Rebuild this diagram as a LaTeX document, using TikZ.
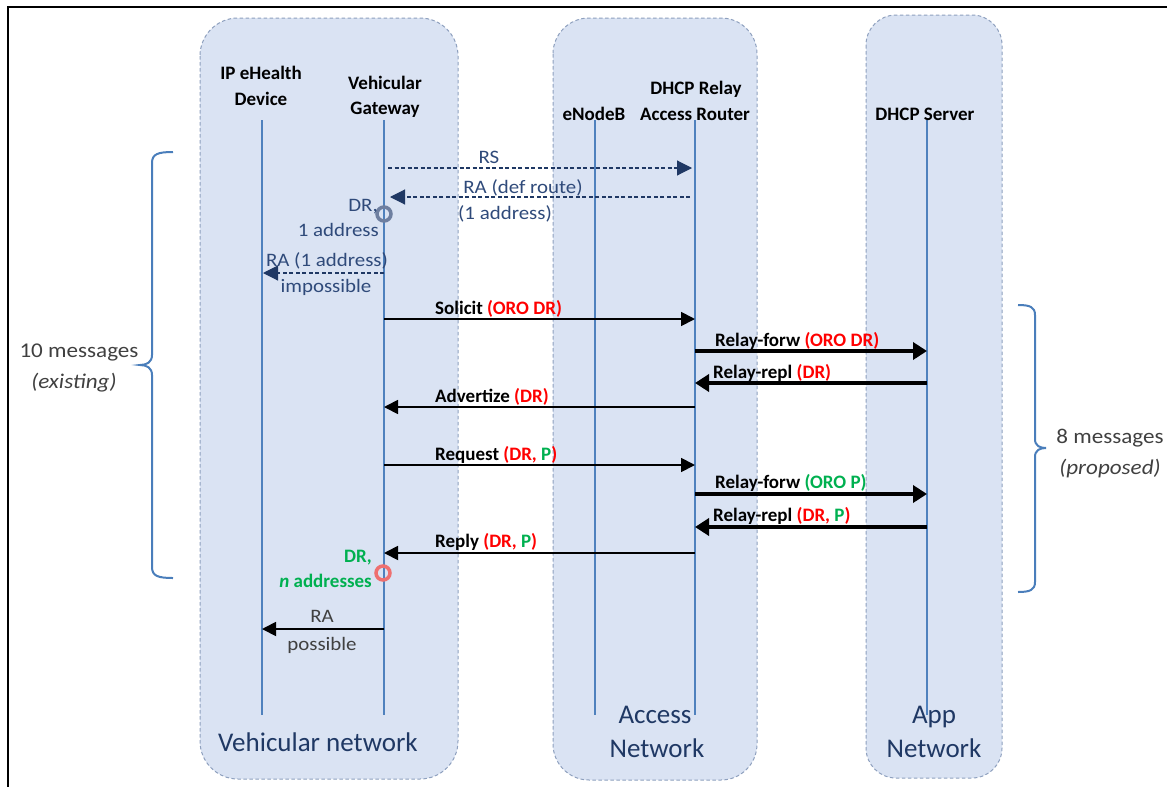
\documentclass[tikz,border=0pt]{standalone}
\usepackage{fontspec}
\setmainfont{Carlito}
\newfontfamily\widefont{Carlito}[FakeStretch=1.1]
\usetikzlibrary{arrows.meta}
\definecolor{boxfill}{HTML}{DAE3F3}
\definecolor{boxedge}{HTML}{8EA0BE}
\definecolor{life}{HTML}{4F81BD}
\definecolor{navy}{HTML}{1F3864}
\definecolor{slate}{HTML}{2F4A7A}
\definecolor{dred}{HTML}{FF0000}
\definecolor{dgreen}{HTML}{00B050}
\definecolor{txtgray}{HTML}{404040}
\definecolor{bracecol}{HTML}{4A7EBB}
\definecolor{ringgray}{HTML}{6E7FA0}
\definecolor{ringred}{HTML}{EE7070}
\begin{document}
\begin{tikzpicture}[x=1pt,y=-1pt,
  netbox/.style={fill=boxfill,draw=boxedge,line width=1pt,dash pattern=on 3.5pt off 2.5pt,rounded corners=#1},
  lifeline/.style={draw=life,line width=1.8pt},
  hdr/.style={font=\fontsize{19}{22}\selectfont\bfseries,anchor=base,inner sep=0pt},
  lbl/.style={font=\fontsize{19}{22}\selectfont\bfseries,anchor=base west,inner sep=0pt},
  dlbl/.style={font=\widefont\fontsize{19}{22}\selectfont,text=slate,inner sep=0pt},
  glbl/.style={font=\widefont\fontsize{19}{22}\selectfont,text=txtgray,inner sep=0pt},
  blbl/.style={font=\widefont\fontsize{21}{24}\selectfont,text=txtgray,anchor=base,inner sep=0pt},
  netlbl/.style={font=\fontsize{27}{30}\selectfont,text=navy,anchor=base,inner sep=0pt},
  dmsg/.style={draw=navy,line width=1.1pt,dash pattern=on 4pt off 2.5pt,-{Triangle[length=15pt,width=15pt,fill=navy]}},
  msg/.style={draw=black,line width=1.8pt,-{Triangle[length=14pt,width=14pt]}},
  tmsg/.style={draw=black,line width=4.5pt,-{Triangle[length=14pt,width=17pt]}},
  bracepath/.style={draw=bracecol,line width=2pt},
  ring/.style={circle,draw=#1,line width=3.5pt,minimum size=14pt,inner sep=0pt}
]
\useasboundingbox (0,0) rectangle (1167,787);
% frame
\coordinate (fTL) at (8,6.5);
\coordinate (fTR) at (1167,6.5);
\coordinate (fBL) at (8,787);
\draw[line width=2pt] (fTR) -- (fTL) -- (fBL);

% network boxes
\draw[netbox=38pt] (200,18) rectangle (458,779);
\draw[netbox=36pt] (553,18) rectangle (757,780);
\draw[netbox=30pt] (866,15) rectangle (1002,778);

% lifelines
\coordinate (ipT) at (262,120); \coordinate (ipB) at (262,715);
\coordinate (gwT) at (384,120); \coordinate (gwB) at (384,715);
\coordinate (enT) at (595,120); \coordinate (enB) at (595,715);
\coordinate (arT) at (695,120); \coordinate (arB) at (695,715);
\coordinate (svT) at (927,120); \coordinate (svB) at (927,715);
\draw[lifeline] (ipT) -- (ipB);
\draw[lifeline] (gwT) -- (gwB);
\draw[lifeline] (enT) -- (enB);
\draw[lifeline] (arT) -- (arB);
\draw[lifeline] (svT) -- (svB);

% headers
\node[hdr] (h1a) at (261,79) {IP eHealth};
\node[hdr] (h1b) at (261,105) {Device};
\node[hdr] (h2a) at (385,89) {Vehicular};
\node[hdr] (h2b) at (385,114) {Gateway};
\node[hdr] (h3) at (594,120) {eNodeB};
\node[hdr] (h4a) at (696,94) {DHCP Relay};
\node[hdr] (h4b) at (695,120) {Access Router};
\node[hdr] (h5) at (925,120) {DHCP Server};

% dashed messages
\coordinate (m1s) at (388,168); \coordinate (m1e) at (692,168);
\draw[dmsg] (m1s) -- (m1e);
\node[dlbl,anchor=base] (l1) at (489,163) {RS};
\coordinate (m2s) at (690,197); \coordinate (m2e) at (390,197);
\draw[dmsg] (m2s) -- (m2e);
\node[dlbl,anchor=base] (l2a) at (523,193) {RA (def route)};
\node[dlbl,anchor=base] (l2b) at (505,219) {(1 address)};
\node[ring=ringgray] (r1) at (384,214) {};
\node[dlbl,anchor=base east] (d1a) at (378,211) {DR,};
\node[dlbl,anchor=base east] (d1b) at (379,236) {1 address};
\coordinate (m3s) at (384,273); \coordinate (m3e) at (263,273);
\draw[dmsg] (m3s) -- (m3e);
\node[dlbl,anchor=base] (l3a) at (327,266) {RA (1 address)};
\node[dlbl,anchor=base] (l3b) at (326,292) {impossible};

% solid messages
\coordinate (m4s) at (384,319); \coordinate (m4e) at (695,319);
\draw[msg] (m4s) -- (m4e);
\node[lbl] (l4) at (435,314) {Solicit {\color{dred}(ORO DR)}};
\coordinate (m5s) at (695,351); \coordinate (m5e) at (927,351);
\draw[tmsg] (m5s) -- (m5e);
\node[lbl] (l5) at (715,346) {Relay-forw {\color{dred}(ORO DR)}};
\coordinate (m6s) at (927,383); \coordinate (m6e) at (695,383);
\draw[tmsg] (m6s) -- (m6e);
\node[lbl] (l6) at (713,378) {Relay-repl {\color{dred}(DR)}};
\coordinate (m7s) at (695,407); \coordinate (m7e) at (384,407);
\draw[msg] (m7s) -- (m7e);
\node[lbl] (l7) at (435,402) {Advertize {\color{dred}(DR)}};
\coordinate (m8s) at (384,465); \coordinate (m8e) at (695,465);
\draw[msg] (m8s) -- (m8e);
\node[lbl] (l8) at (435,460) {Request {\color{dred}(DR, \textcolor{dgreen}{P})}};
\coordinate (m9s) at (695,494); \coordinate (m9e) at (927,494);
\draw[tmsg] (m9s) -- (m9e);
\node[lbl] (l9) at (715,488) {Relay-forw {\color{dgreen}(ORO P)}};
\coordinate (m10s) at (927,527); \coordinate (m10e) at (695,527);
\draw[tmsg] (m10s) -- (m10e);
\node[lbl] (l10) at (713,521) {Relay-repl {\color{dred}(DR, \textcolor{dgreen}{P})}};
\coordinate (m11s) at (695,553); \coordinate (m11e) at (384,553);
\draw[msg] (m11s) -- (m11e);
\node[lbl] (l11) at (435,547) {Reply {\color{dred}(DR, \textcolor{dgreen}{P})}};
\node[ring=ringred] (r2) at (383,573) {};
\node[lbl,anchor=base east,text=dgreen] (d2a) at (372,562) {DR,};
\node[lbl,anchor=base east,text=dgreen] (d2b) at (372,587) {\textit{n} addresses};
\coordinate (m12s) at (384,629); \coordinate (m12e) at (262,629);
\draw[msg] (m12s) -- (m12e);
\node[glbl,anchor=base] (l12a) at (322,622) {RA};
\node[glbl,anchor=base] (l12b) at (322,650) {possible};

% braces
\coordinate (b1t) at (173,152);
\coordinate (b1b) at (173,578);
\draw[bracepath] (b1t) .. controls (158,152) and (152,154) .. (152,163) -- (152,355)
  .. controls (152,362) and (147,365) .. (140,365)
  .. controls (147,365) and (152,368) .. (152,375) -- (152,567)
  .. controls (152,576) and (158,578) .. (b1b);
\node[blbl] (bt1a) at (79,357) {10 messages};
\node[blbl] (bt1b) at (74,388) {\textit{(existing)}};
\coordinate (b2t) at (1018,305);
\coordinate (b2b) at (1018,592);
\draw[bracepath] (b2t) .. controls (1030,305) and (1035,307) .. (1035,315) -- (1035,439)
  .. controls (1035,446) and (1040,448) .. (1046,448)
  .. controls (1040,448) and (1035,450) .. (1035,457) -- (1035,582)
  .. controls (1035,590) and (1030,592) .. (b2b);
\node[blbl] (bt2a) at (1110,443) {8 messages};
\node[blbl] (bt2b) at (1110,474) {\textit{(proposed)}};

% network labels
\node[netlbl] (n1) at (318,751) {Vehicular network};
\node[netlbl] (n2a) at (655,723) {Access};
\node[netlbl] (n2b) at (657,757) {Network};
\node[netlbl] (n3a) at (934,723) {App};
\node[netlbl] (n3b) at (934,757) {Network};
\end{tikzpicture}
\end{document}
